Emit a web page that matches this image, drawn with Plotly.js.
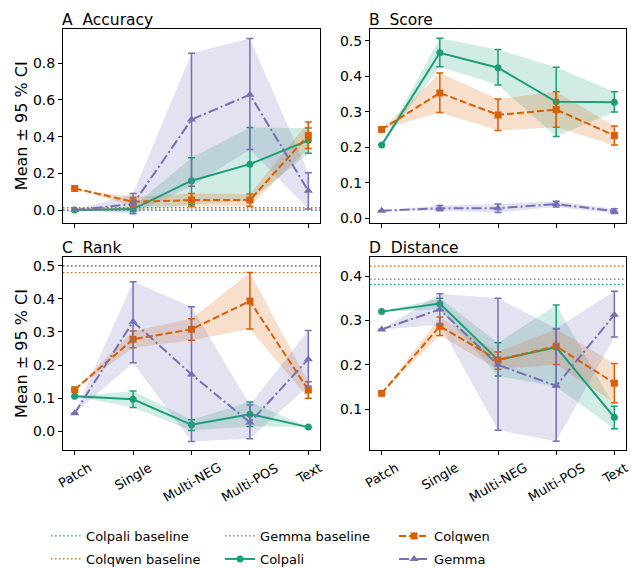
<!DOCTYPE html>
<html>
<head>
<meta charset="utf-8">
<script src="https://cdn.plot.ly/plotly-3.0.1.min.js"></script>
<style>html,body{margin:0;padding:0;background:#fff}#chart{width:631px;height:568px}</style>
</head>
<body>
<div id="chart"></div>
<script>
// ---------- data ----------
const categories = ['Patch', 'Single', 'Multi-NEG', 'Multi-POS', 'Text'];
const models = ['Colpali', 'Colqwen', 'Gemma'];

// A Accuracy
const accColpaliMean = [0.000, 0.005, 0.160, 0.250, 0.380];
const accColpaliLo   = [0.000, -0.010, 0.030, 0.050, 0.310];
const accColpaliHi   = [0.000, 0.020, 0.285, 0.450, 0.447];
const accColqwenMean = [0.118, 0.045, 0.054, 0.054, 0.408];
const accColqwenLo   = [0.118, 0.020, 0.020, 0.020, 0.335];
const accColqwenHi   = [0.118, 0.070, 0.090, 0.087, 0.480];
const accGemmaMean   = [0.000, 0.033, 0.493, 0.629, 0.105];
const accGemmaLo     = [0.000, -0.020, 0.130, 0.330, 0.005];
const accGemmaHi     = [0.000, 0.090, 0.855, 0.935, 0.203];
const accBaselines   = [0.000, 0.0125, 0.000]; // Colpali, Colqwen, Gemma

// B Score
const scoreColpaliMean = [0.206, 0.466, 0.424, 0.328, 0.327];
const scoreColpaliLo   = [0.206, 0.427, 0.375, 0.230, 0.299];
const scoreColpaliHi   = [0.206, 0.507, 0.475, 0.425, 0.356];
const scoreColqwenMean = [0.250, 0.353, 0.291, 0.306, 0.233];
const scoreColqwenLo   = [0.250, 0.298, 0.247, 0.256, 0.206];
const scoreColqwenHi   = [0.250, 0.409, 0.336, 0.356, 0.260];
const scoreGemmaMean   = [0.021, 0.028, 0.028, 0.040, 0.020];
const scoreGemmaLo     = [0.021, 0.021, 0.016, 0.032, 0.013];
const scoreGemmaHi     = [0.021, 0.036, 0.040, 0.048, 0.027];
const scoreBaselines   = [null, null, null];

// C Rank
const rankColpaliMean = [0.106, 0.097, 0.020, 0.052, 0.013];
const rankColpaliLo   = [0.106, 0.072, 0.003, 0.015, 0.013];
const rankColpaliHi   = [0.106, 0.122, 0.035, 0.089, 0.013];
const rankColqwenMean = [0.126, 0.278, 0.308, 0.393, 0.125];
const rankColqwenLo   = [0.126, 0.252, 0.275, 0.309, 0.100];
const rankColqwenHi   = [0.126, 0.303, 0.340, 0.479, 0.150];
const rankGemmaMean   = [0.055, 0.331, 0.172, 0.027, 0.218];
const rankGemmaLo     = [0.055, 0.207, -0.030, -0.022, 0.137];
const rankGemmaHi     = [0.055, 0.451, 0.376, 0.080, 0.304];
const rankBaselines   = [0.499, 0.479, 0.499];

// D Distance
const distColpaliMean = [0.320, 0.338, 0.211, 0.240, 0.082];
const distColpaliLo   = [0.320, 0.325, 0.175, 0.151, 0.056];
const distColpaliHi   = [0.320, 0.350, 0.250, 0.335, 0.107];
const distColqwenMean = [0.136, 0.287, 0.211, 0.242, 0.159];
const distColqwenLo   = [0.136, 0.266, 0.190, 0.201, 0.115];
const distColqwenHi   = [0.136, 0.308, 0.229, 0.281, 0.203];
const distGemmaMean   = [0.280, 0.325, 0.200, 0.153, 0.313];
const distGemmaLo     = [0.280, 0.290, 0.053, 0.028, 0.263];
const distGemmaHi     = [0.280, 0.360, 0.350, 0.282, 0.366];
const distBaselines   = [0.381, 0.4225, 0.393];

const panelTitles = ['A\u00a0\u00a0Accuracy', 'B\u00a0\u00a0Score', 'C\u00a0\u00a0Rank', 'D\u00a0\u00a0Distance'];
const yLabel = 'Mean ± 95 % CI';

// ---------- style ----------
const FONT = 'DejaVu Sans, Liberation Sans, sans-serif';
const rgb = {Colpali: [27,158,119], Colqwen: [217,95,2], Gemma: [117,112,179]};
const dashes = {Colpali: 'solid', Colqwen: '7px,3px', Gemma: '10px,3px,2px,3px'};
const symbols = {Colpali: 'circle', Colqwen: 'square', Gemma: 'triangle-up'};
const msize = {Colpali: 7, Colqwen: 7, Gemma: 8};
const col = (m, a) => a === undefined ? `rgb(${rgb[m].join(',')})` : `rgba(${rgb[m].join(',')},${a})`;
const BASEDASH = '1.5px,2.5px';
const XTICK_SIZE = 13, ANGLE = 30;

const panels = [
  {means: [accColpaliMean, accColqwenMean, accGemmaMean], lo: [accColpaliLo, accColqwenLo, accGemmaLo], hi: [accColpaliHi, accColqwenHi, accGemmaHi], base: accBaselines},
  {means: [scoreColpaliMean, scoreColqwenMean, scoreGemmaMean], lo: [scoreColpaliLo, scoreColqwenLo, scoreGemmaLo], hi: [scoreColpaliHi, scoreColqwenHi, scoreGemmaHi], base: scoreBaselines},
  {means: [rankColpaliMean, rankColqwenMean, rankGemmaMean], lo: [rankColpaliLo, rankColqwenLo, rankGemmaLo], hi: [rankColpaliHi, rankColqwenHi, rankGemmaHi], base: rankBaselines},
  {means: [distColpaliMean, distColqwenMean, distGemmaMean], lo: [distColpaliLo, distColqwenLo, distGemmaLo], hi: [distColpaliHi, distColqwenHi, distGemmaHi], base: distBaselines},
];

const W = 631, H = 568;
const px = (a, b) => [a / W, b / W];
const py = (top, bottom) => [(H - bottom) / H, (H - top) / H];
const xDom = [px(63, 320), px(370, 626), px(63, 320), px(370, 626)];
const yDom = [py(29, 222.5), py(29, 222.5), py(257, 450), py(257, 450)];
const yRanges = [[-0.068, 0.987], [-0.012, 0.533], [-0.056, 0.526], [0.0084, 0.443]];
const yDticks = [0.2, 0.1, 0.1, 0.1];
const xIdx = categories.map((c, i) => i);

// measure label widths so that rotated labels hang from their top edge (matplotlib style)
const ctx = document.createElement('canvas').getContext('2d');
ctx.font = XTICK_SIZE + 'px "DejaVu Sans"';
const rad = ANGLE * Math.PI / 180;
const rotHeight = t => ctx.measureText(t).width * Math.sin(rad) + XTICK_SIZE * 1.15 * Math.cos(rad);

const traces = [];
const shapes = [];
const annotations = [];
const legendSlot = {
  'Colpali baseline': ['legend', 1], 'Gemma baseline': ['legend', 2], 'Colqwen': ['legend', 3],
  'Colqwen baseline': ['legend2', 1], 'Colpali': ['legend2', 2], 'Gemma': ['legend2', 3]
};

panels.forEach((p, k) => {
  const xa = 'x' + (k ? k + 1 : ''), ya = 'y' + (k ? k + 1 : '');
  models.forEach((m, j) => {
    traces.push({
      type: 'scatter', mode: 'lines', xaxis: xa, yaxis: ya,
      x: xIdx.concat(xIdx.slice().reverse()),
      y: p.hi[j].concat(p.lo[j].slice().reverse()),
      fill: 'toself', fillcolor: col(m, 0.2), line: {width: 0},
      hoverinfo: 'skip', showlegend: false
    });
  });
  models.forEach((m, j) => {
    if (p.base[j] === null) return;
    shapes.push({
      type: 'line', xref: xa + ' domain', yref: ya, x0: 0, x1: 1, y0: p.base[j], y1: p.base[j],
      line: {color: col(m), width: 1.3, dash: BASEDASH}
    });
  });
  models.forEach((m, j) => {
    traces.push({
      type: 'scatter', mode: 'lines+markers', xaxis: xa, yaxis: ya,
      x: xIdx, y: p.means[j], name: m,
      legend: legendSlot[m][0], legendrank: legendSlot[m][1], showlegend: k === 0,
      line: {color: col(m), width: 2, dash: dashes[m]},
      marker: {color: col(m), symbol: symbols[m], size: msize[m]},
      error_y: {
        type: 'data', symmetric: false,
        array: p.hi[j].map((v, i) => v - p.means[j][i]),
        arrayminus: p.means[j].map((v, i) => v - p.lo[j][i]),
        color: col(m), thickness: 1.5, width: 3.5
      }
    });
  });
  annotations.push({
    text: panelTitles[k], xref: xa + ' domain', yref: ya + ' domain', x: 0, y: 1,
    xanchor: 'left', yanchor: 'bottom', showarrow: false, yshift: -2, xshift: -3,
    font: {family: FONT, size: 15.5, color: '#000'}
  });
  if (k >= 2) {
    categories.forEach((c, i) => {
      annotations.push({
        text: c, xref: xa, yref: ya + ' domain', x: xIdx[i], y: 0,
        xanchor: 'center', yanchor: 'middle', textangle: -ANGLE, showarrow: false,
        yshift: -(10 + rotHeight(c) / 2),
        font: {family: FONT, size: XTICK_SIZE, color: '#000'}
      });
    });
  }
});

models.forEach(m => {
  const nm = m + ' baseline';
  traces.push({
    type: 'scatter', mode: 'lines', x: [null], y: [null], name: nm,
    legend: legendSlot[nm][0], legendrank: legendSlot[nm][1],
    line: {color: col(m), width: 1.3, dash: BASEDASH}, hoverinfo: 'skip'
  });
});

const legendBase = {
  orientation: 'h', x: 0.073, xanchor: 'left', yanchor: 'middle',
  entrywidth: 129, entrywidthmode: 'pixels', traceorder: 'normal',
  font: {family: FONT, size: 13, color: '#000'}, bgcolor: 'rgba(0,0,0,0)'
};

const layout = {
  width: W, height: H,
  margin: {l: 0, r: 0, t: 0, b: 0, autoexpand: false},
  paper_bgcolor: '#fff', plot_bgcolor: '#fff',
  font: {family: FONT, size: 13, color: '#000'},
  showlegend: true,
  legend: Object.assign({}, legendBase, {y: (H - 536) / H}),
  legend2: Object.assign({}, legendBase, {y: (H - 559) / H}),
  shapes: shapes,
  annotations: annotations
};

for (let k = 0; k < 4; k++) {
  const s = k ? String(k + 1) : '';
  layout['xaxis' + s] = {
    domain: xDom[k], anchor: 'y' + s, range: [-0.2, 4.2],
    tickmode: 'array', tickvals: xIdx, showticklabels: false,
    ticks: 'outside', ticklen: 4, tickwidth: 1, tickcolor: '#000',
    showline: true, mirror: true, linecolor: '#000', linewidth: 1,
    showgrid: false, zeroline: false
  };
  layout['yaxis' + s] = {
    domain: yDom[k], anchor: 'x' + s, range: yRanges[k],
    dtick: yDticks[k], tick0: 0, tickformat: '.1f',
    ticks: 'outside', ticklen: 4, tickwidth: 1, tickcolor: '#000',
    showline: true, mirror: true, linecolor: '#000', linewidth: 1,
    showgrid: false, zeroline: false,
    tickfont: {family: FONT, size: 14, color: '#000'},
    title: (k % 2 === 0) ? {text: yLabel, standoff: 1, font: {family: FONT, size: 16, color: '#000'}} : {text: ''}
  };
}

Plotly.newPlot('chart', traces, layout, {staticPlot: true, displayModeBar: false});
</script>
</body>
</html>
